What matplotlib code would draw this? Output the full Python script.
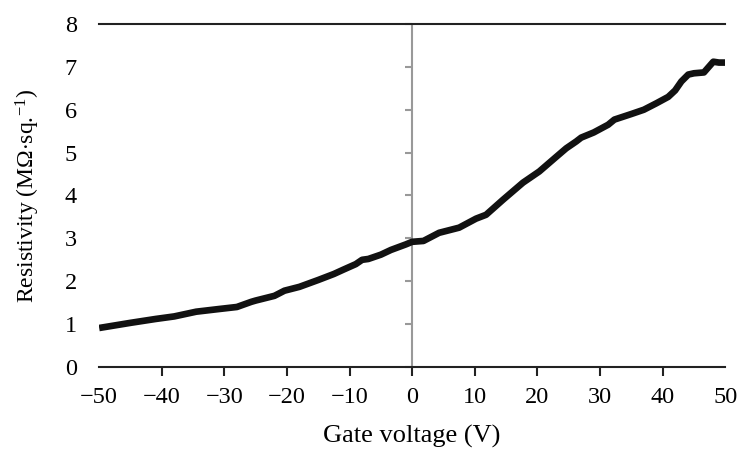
import numpy as np
import matplotlib.pyplot as plt

plt.rcParams['font.family'] = ['Liberation Serif', 'DejaVu Serif']
plt.rcParams['mathtext.fontset'] = 'custom'
plt.rcParams['mathtext.rm'] = 'Liberation Serif'
plt.rcParams['mathtext.it'] = 'Liberation Serif:italic'

# gate voltage (V) and resistivity (MOhm/sq)
gate_v = [-50, -45, -41, -38, -34.5, -31, -28, -25.7, -25, -22, -20.4, -18,
          -15, -12.5, -11, -9, -8, -7, -5, -3.4, -1, 0, 1.8, 4.3, 7.5, 10.2,
          11.8, 14.5, 17.7, 20.3, 23, 24.6, 26.2, 27, 29, 31.3, 32.3, 35, 37,
          39, 40.9, 42, 43, 44.1, 45, 46.6, 48.1, 49, 50]
resist = [0.91, 1.03, 1.12, 1.18, 1.29, 1.35, 1.40, 1.52, 1.55, 1.66, 1.78, 1.87,
          2.03, 2.17, 2.27, 2.40, 2.50, 2.52, 2.62, 2.73, 2.86, 2.92, 2.94, 3.13, 3.25, 3.46,
          3.55, 3.90, 4.30, 4.56, 4.90, 5.10, 5.26, 5.35, 5.47, 5.65, 5.77, 5.90, 6.00,
          6.15, 6.30, 6.45, 6.66, 6.82, 6.85, 6.87, 7.12, 7.10, 7.10]

x_ticks = [-50, -40, -30, -20, -10, 0, 10, 20, 30, 40, 50]
x_labels = ['\u221250', '\u221240', '\u221230', '\u221220', '\u221210', '0', '10', '20', '30', '40', '50']
y_ticks = [0, 1, 2, 3, 4, 5, 6, 7, 8]

fig = plt.figure(figsize=(7.4, 4.49), dpi=100)
ax = fig.add_axes([0.134, 0.1826, 0.846, 0.764])

# gray y axis through x = 0 with ticks pointing left
ax.axvline(0, color='#999999', lw=1.5, zorder=1)
ax.plot(np.zeros(len(y_ticks)), y_ticks, ls='none', marker=0, ms=5, mew=1.5,
        color='#999999', clip_on=False, zorder=1)

ax.plot(gate_v, resist, color='#111111', lw=4.8, solid_capstyle='butt', solid_joinstyle='round', zorder=3)

ax.set_xlim(-50, 50)
ax.set_ylim(0, 8)

ax.spines['left'].set_visible(False)
ax.spines['right'].set_visible(False)
ax.spines['top'].set_linewidth(1.5)
ax.spines['bottom'].set_linewidth(1.5)
ax.spines['top'].set_color('#222222')
ax.spines['bottom'].set_color('#222222')
ax.spines['bottom'].set_zorder(2)

ax.set_xticks(x_ticks)
ax.set_xticklabels(x_labels)
ax.set_yticks(y_ticks)
ax.tick_params(axis='x', direction='out', length=6.5, width=1.5, color='#222222',
               labelsize=17.5, pad=8)
ax.tick_params(axis='y', length=0, labelsize=17.5, pad=16)
ax.xaxis.get_major_ticks()[0].tick1line.set_visible(False)
ax.xaxis.get_major_ticks()[-1].tick1line.set_visible(False)

ax.set_xlabel('Gate voltage (V)', fontsize=19, labelpad=12)
ax.set_ylabel(r'Resistivity (M$\Omega$$\cdot$sq.$^{-1}$)', fontsize=17, labelpad=16)

fig.savefig('out.png', dpi=100)
